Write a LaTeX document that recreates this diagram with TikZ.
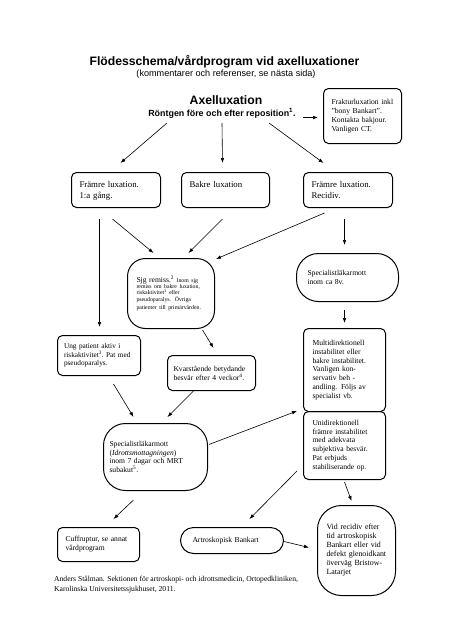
\documentclass[tikz,border=0pt]{standalone}
\usepackage{fontspec}
\setmainfont{Liberation Serif}
\setsansfont{Liberation Sans}
\usetikzlibrary{calc, arrows.meta}

\newcommand{\boxfont}{\fontsize{7.6}{8.8}\selectfont}
\newcommand{\rowfont}{\fontsize{8.8}{11}\selectfont}
\newcommand{\tinyfont}{\fontsize{5.8}{6.3}\selectfont}
\newcommand{\recfont}{\fontsize{7.9}{9}\selectfont}

\begin{document}
\begin{tikzpicture}[x=1pt,y=-1pt,>={Latex[length=5pt,width=3.6pt]}]

\tikzset{
  box/.style={draw, line width=1pt, rounded corners=5pt, anchor=north west,
    align=left, inner ysep=0pt, font=\boxfont},
  rowbox/.style={box, font=\rowfont, inner ysep=3pt, inner xsep=8pt,
    text height=11.5pt, text depth=17.5pt},
  roundbox/.style={box, rounded corners=#1},
  arr/.style={->, line width=0.6pt},
}

\fill[white] (0,0) rectangle (451,640);
\useasboundingbox (0,0) rectangle (451,640);

% ------------------------------------------------------------
% Headings
% ------------------------------------------------------------
\node[font=\sffamily\bfseries\fontsize{12.2}{14}\selectfont, anchor=base] (title)
  at (224.5,65) {Flödesschema/vårdprogram vid axelluxationer};
\node[font=\sffamily\fontsize{9.1}{11}\selectfont, anchor=base] (subtitle)
  at (226,76) {(kommentarer och referenser, se nästa sida)};
\node[font=\sffamily\bfseries\fontsize{12.2}{14}\selectfont, anchor=base] (axel)
  at (226,104) {Axelluxation};
\node[font=\sffamily\bfseries\fontsize{8.9}{11}\selectfont, anchor=base] (ront)
  at (222,116) {Röntgen före och efter reposition\textsuperscript{1}.};

\node[box, minimum height=55pt, inner xsep=8pt, text width=62pt] (fraktur)
  at (323,88) {Frakturluxation inkl\\ "bony Bankart".\\ Kontakta bakjour.\\ Vanligen CT.};

% ------------------------------------------------------------
% First row
% ------------------------------------------------------------
\node[rowbox, text width=73pt] (b1) at (71,172) {Främre luxation.\\ 1:a gång.};
\node[rowbox, text width=72pt] (b2) at (181,172) {Bakre luxation};
\node[rowbox, text width=73pt] (b3) at (303,172) {Främre luxation.\\ Recidiv.};

% ------------------------------------------------------------
% Middle part
% ------------------------------------------------------------
\node[roundbox=18pt, minimum height=70pt, inner xsep=9pt, text width=69pt] (sjg)
  at (127,258) {Sjg remiss.\textsuperscript{2} \tinyfont Inom sjg\\
  remiss om bakre luxation,\\ riskaktivitet\textsuperscript{3} eller\\
  pseudoparalys. Övriga\\ patienter till primärvården.};
\node[roundbox=22pt, minimum height=48pt, inner xsep=11pt, text width=80pt] (spec8v)
  at (296,253) {Specialistläkarmott\\ inom ca 8v.};
\node[box, minimum height=40pt, inner xsep=6.5pt, text width=70pt,
  font=\fontsize{7.3}{8.5}\selectfont] (ung)
  at (57,335) {Ung patient aktiv i\\ riskaktivitet\textsuperscript{3}.~Pat~med\\ pseudoparalys.};
\node[box, minimum height=35pt, inner xsep=6pt, text width=76pt] (kvar)
  at (167,355) {Kvarstående betydande\\ besvär efter 4 veckor\textsuperscript{4}.};
\node[box, minimum height=83pt, inner xsep=9pt, text width=64pt] (multi)
  at (303,328) {Multidirektionell\\ instabilitet eller\\ bakre instabilitet.\\
  Vanligen kon-\\ servativ beh -\\ andling. Följs av\\ specialist vb.};
\node[box, minimum height=68pt, inner xsep=9pt, text width=64pt] (uni)
  at (303,411) {Unidirektionell\\ främre instabilitet\\ med adekvata\\
  subjektiva besvär.\\ Pat erbjuds\\ stabiliserande op.};
\node[roundbox=22pt, minimum height=67pt, inner xsep=6pt, text width=92pt] (specidr)
  at (103,423) {Specialistläkarmott\\ (\textit{Idrottsmottagningen})\\
  inom 7 dagar och MRT\\ subakut\textsuperscript{5}.};

% ------------------------------------------------------------
% Bottom row
% ------------------------------------------------------------
\node[box, minimum height=34pt, inner xsep=8pt, text width=66pt] (cuff)
  at (57,527) {Cuffruptur, se annat\\ vårdprogram};
\node[roundbox=13pt, minimum height=26pt, inner xsep=12pt, text width=79pt] (artro)
  at (180,527) {Artroskopisk Bankart};
\node[roundbox=24pt, minimum height=90pt, inner xsep=9pt, text width=60pt, font=\recfont] (vid)
  at (317,505) {Vid recidiv efter\\ tid artroskopisk\\ Bankart eller vid\\
  defekt glenoidkant\\ överväg Bristow-\\ Latarjet};

\node[anchor=base west, align=left, inner sep=0pt, font=\fontsize{7.6}{9.2}\selectfont] (footer)
  at (54,591) {Anders Stålman. Sektionen för artroskopi- och idrottsmedicin, Ortopedkliniken,\\
  Karolinska Universitetssjukhuset, 2011.};

% ------------------------------------------------------------
% Arrows
% ------------------------------------------------------------
\draw[arr] ($(fraktur.west)+(-20,1.5)$) -- ($(fraktur.west)+(-5,1.5)$);
\foreach \dx/\tgt/\ex in {-55/b1/4.5, 0/b2/-3, 47/b3/-24.5} {
  \draw[arr] ($(ront.base)+(\dx,7)$) -- ($(\tgt.north)+(\ex,-9)$);
}

\draw[arr] ($(b1.south)+(-16.5,11)$) -- ($(ung.north)+(0.5,-8)$);
\draw[arr] ($(b1.south)+(-3.5,11)$) -- ($(sjg.north)+(-17.5,-5)$);
\draw[arr] ($(b2.south)+(-3,11)$) -- ($(sjg.north)+(17.5,-5)$);
\draw[arr] ($(b3.south)+(-23.5,5)$) -- ($(sjg.north east)+(1,1)$);
\draw[arr] ($(b3.south)+(-3.5,11)$) -- ($(spec8v.north)+(-3,-8)$);
\draw[arr] ($(spec8v.south)+(-3,8)$) -- ($(multi.north)+(0,-5)$);

\draw[arr] ($(sjg.south)+(31.5,1)$) -- ($(kvar.north)+(2,-7)$);
\draw[arr] ($(kvar.south)+(-18,0)$) -- ($(specidr.north)+(12,-6)$);
\draw[arr] ($(ung.south)+(14.5,8)$) -- ($(specidr.north)+(-22,-6)$);
\draw[arr] ($(specidr.east)+(1,-12.5)$) -- ($(multi.south west)+(-6,-1)$);

\draw[arr] ($(uni.south west)+(-6,-9)$) -- ($(artro.north)+(17.5,-8)$);
\draw[arr] ($(uni.south)+(0,2)$) -- ($(vid.north)+(-5,-4)$);
\draw[arr] ($(specidr.south)+(-22,9)$) -- ($(cuff.north)+(15,-8)$);
\draw[arr] ($(artro.east)+(0,1)$) -- ($(vid.west)+(-8,-3)$);

\end{tikzpicture}
\end{document}
